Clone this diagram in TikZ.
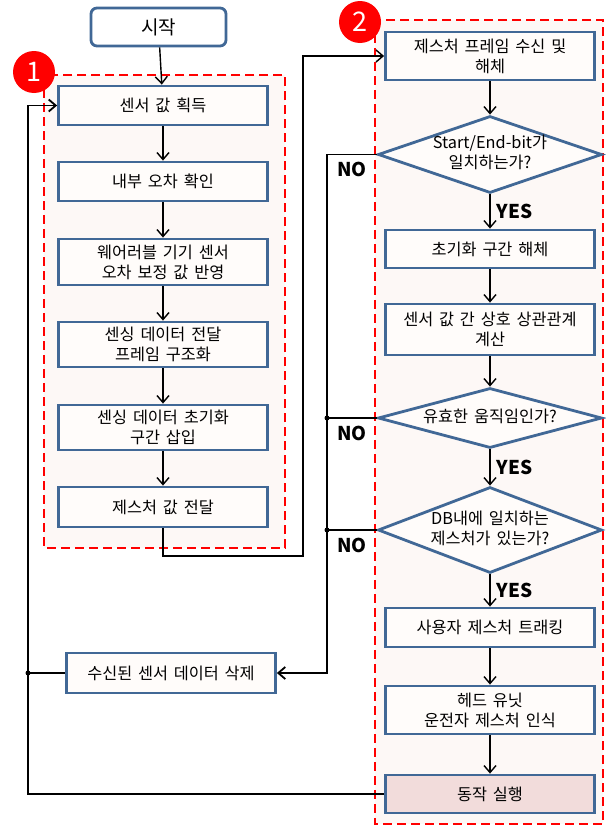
\documentclass[tikz,border=0pt]{standalone}
\usepackage{fontspec}
\setmainfont{Noto Sans CJK KR}[WordSpace=1.6]
\usetikzlibrary{arrows.meta,shapes.geometric}

\definecolor{boxline}{RGB}{65,104,150}
\definecolor{boxfill}{RGB}{255,252,250}
\definecolor{zonefill}{RGB}{253,248,246}
\definecolor{runfill}{RGB}{242,220,219}

\newcommand{\dtxt}[1]{\makebox[0pt]{\begin{tabular}{@{}c@{}}#1\end{tabular}}}

\begin{document}
\begin{tikzpicture}
  [x=1pt,y=-1pt,>={Straight Barb[length=7pt,width=12pt]},
   proc/.style={draw=boxline,line width=2.8pt,fill=boxfill,minimum width=209pt,
     align=center,inner sep=0pt,font=\fontsize{16.3}{20}\selectfont},
   test/.style={diamond,draw=boxline,line width=2.8pt,fill=boxfill,minimum width=224pt,
     inner sep=0pt,font=\fontsize{16.3}{20}\selectfont},
   startbox/.style={draw=boxline,line width=2.8pt,fill=white,rounded corners=6pt,
     minimum width=135pt,minimum height=38pt,font=\fontsize{19}{20}\selectfont},
   zone/.style={draw=red,fill=zonefill,line width=2.6pt,dash pattern=on 9pt off 5pt},
   tag/.style={circle,fill=red,text=white,minimum size=42pt,inner sep=0pt,
     font=\fontsize{27}{30}\selectfont},
   yn/.style={font=\fontsize{19}{20}\selectfont\bfseries,inner sep=0pt},
   arr/.style={->,line width=1.4pt},
   loop/.style={line width=1.8pt}]
  \useasboundingbox (0,0) rectangle (605,827);

  % dashed zones
  \draw[zone] (44,75) rectangle (285,548);
  \draw[zone] (375,20) rectangle (603,824);
  \node[tag] (t1) at (34,72) {1};
  \node[tag] (t2) at (360,22) {2};

  % left column
  \node[startbox] (start) at (158.5,27) {시작};
  \node[proc,minimum height=39pt] (s1) at (163,105.5) {센서 값 획득};
  \node[proc,minimum height=39pt] (s2) at (163,181.5) {내부 오차 확인};
  \node[proc,minimum height=46pt] (s3) at (163,262) {웨어러블 기기 센서\\오차 보정 값 반영};
  \node[proc,minimum height=45pt] (s4) at (163,344.5) {센싱 데이터 전달\\프레임 구조화};
  \node[proc,minimum height=45pt] (s5) at (163,427.5) {센싱 데이터 초기화\\구간 삽입};
  \node[proc,minimum height=40pt] (s6) at (163,507) {제스처 값 전달};
  \node[proc,minimum height=40pt] (del) at (171,673) {수신된 센서 데이터 삭제};

  % right column
  \node[proc,minimum height=48pt] (r1) at (490,56) {제스처 프레임 수신 및\\해체};
  \node[test,minimum height=77pt] (d1) at (490,154.5) {\dtxt{Start/End-bit가\\일치하는가?}};
  \node[proc,minimum height=38pt] (r2) at (490,249) {초기화 구간 해체};
  \node[proc,minimum height=51pt] (r3) at (490,329.5) {센서 값 간 상호 상관관계\\계산};
  \node[test,minimum height=60pt] (d2) at (490,418) {\dtxt{유효한 움직임인가?}};
  \node[test,minimum height=86pt] (d3) at (490,530) {\dtxt{DB내에 일치하는\\제스처가 있는가?}};
  \node[proc,minimum height=39pt] (r4) at (490,627.5) {사용자 제스처 트래킹};
  \node[proc,minimum height=48pt] (r5) at (490,710) {헤드 유닛\\운전자 제스처 인식};
  \node[proc,fill=runfill,minimum height=38pt] (r6) at (490,794) {동작 실행};

  \coordinate (j1) at (303,556);
  \coordinate (bus) at (327,673);
  \coordinate (back) at (28,673);

  \draw[arr] (start) -- (s1);
  \foreach \from/\to in {s1/s2,s2/s3,s3/s4,s4/s5,s5/s6,r1/d1,r2/r3,r3/d2,r4/r5,r5/r6}
    \draw[arr] (\from) -- (\to);
  \draw[arr] (s6.south) -- (s6.south |- j1) -- (j1) |- (r1.west);

  \draw[arr] (d1) -- node[yn,right=6pt] (yes1) {YES} (r2);
  \draw[arr] (d2) -- node[yn,right=6pt] (yes2) {YES} (d3);
  \draw[arr] (d3) -- node[yn,right=6pt] (yes3) {YES} (r4);

  % NO branches
  \draw[arr,loop] (d1.west) -- node[yn,below=7pt] (no1) {NO} (d1.west -| bus) |- (del.east);
  \draw[loop] (d2.west) -- node[yn,below=7pt] (no2) {NO} (d2.west -| bus);
  \draw[loop] (d3.west) -- node[yn,below=7pt] (no3) {NO} (d3.west -| bus);
  \fill (d2.west -| bus) circle (2.5pt);
  \fill (d3.west -| bus) circle (2.5pt);

  % back to start of sensing
  \draw[loop] (del.west) -- (back);
  \fill (back) circle (2.5pt);
  \draw[arr,loop] (r6.west) -| (back) |- (s1.west);
\end{tikzpicture}
\end{document}
